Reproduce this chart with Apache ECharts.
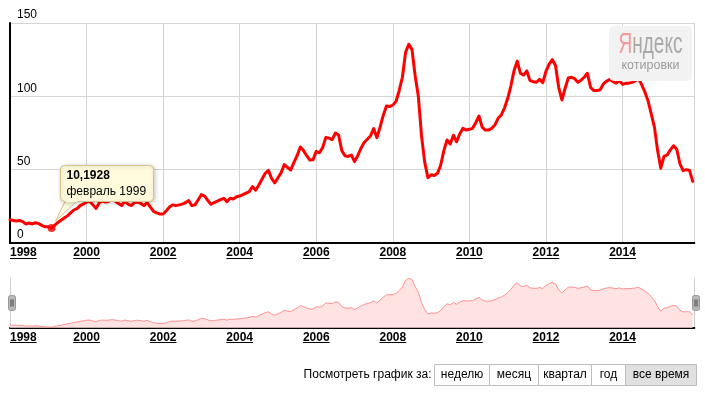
<!DOCTYPE html>
<html>
<head>
<meta charset="utf-8">
<script src="https://cdn.jsdelivr.net/npm/echarts@6/dist/echarts.min.js"></script>
<style>
html,body{margin:0;padding:0;background:#fff;}
#c{width:705px;height:393px;}
</style>
</head>
<body>
<div id="c"></div>
<script>
// ---- data (monthly values) ----
const years = [1998,1999,2000,2001,2002,2003,2004,2005,2006,2007,2008,2009,2010,2011,2012,2013,2014,2015];
const v1998 = [15.8,15.4,15.0,15.4,14.6,13.0,13.6,13.0,13.8,13.2,12.0,11.0];
const v1999 = [11.0,10.1928,12.0,14.0,15.5,17.0,18.5,20.5,22.5,23.5,25.5,26.5];
const v2000 = [28.0,28.5,26.0,23.6,27.5,28.5,28.0,28.5,29.5,28.5,27.0,25.5];
const v2001 = [28.5,26.5,25.5,27.5,28.0,27.0,25.5,27.5,24.5,21.5,20.5,19.8];
const v2002 = [19.8,22.0,24.5,26.0,25.5,26.0,26.5,27.5,29.0,25.5,26.0,29.5];
const v2003 = [33.0,32.0,29.0,26.4,27.5,28.5,29.5,30.5,28.2,30.5,30.0,31.5];
const v2004 = [32.0,33.0,34.0,35.0,38.4,36.0,39.5,43.5,47.5,49.5,44.0,41.0];
const v2005 = [44.5,48.0,53.5,51.5,49.8,55.0,59.5,65.5,63.0,59.5,56.5,56.8];
const v2006 = [62.5,61.5,65.0,72.0,71.5,70.5,75.0,73.6,63.0,59.5,59.0,60.0];
const v2007 = [55.5,59.5,64.5,68.5,70.7,73.0,78.0,71.8,79.0,87.0,93.4,93.0];
const v2008 = [94.0,96.5,104.0,113.0,130.0,135.5,132.0,114.0,100.0,73.0,55.0,44.5];
const v2009 = [46.5,46.0,47.5,53.0,63.0,70.2,67.5,73.5,69.0,74.5,78.2,77.0];
const v2010 = [77.5,78.2,82.0,86.6,79.0,77.0,77.0,78.2,80.5,85.0,87.3,92.0];
const v2011 = [98.5,107.0,117.5,124.0,115.7,114.5,117.3,110.7,110.0,109.6,111.6,109.3];
const v2012 = [117.0,122.0,125.0,121.0,106.0,97.5,105.5,112.5,113.0,112.0,109.6,111.0];
const v2013 = [113.0,115.7,106.0,103.9,103.9,104.5,108.5,110.3,111.6,110.0,109.0,110.7];
const v2014 = [108.2,108.9,109.0,109.5,110.5,112.3,108.0,103.0,97.0,88.0,79.0,63.0];
const v2015 = [51.0,59.0,60.0,63.5,66.3,63.9,54.0,49.3,50.0,49.5,42.0];
const yearValues = [v1998,v1999,v2000,v2001,v2002,v2003,v2004,v2005,v2006,v2007,v2008,v2009,v2010,v2011,v2012,v2013,v2014,v2015];

const xTickYears = [1998,2000,2002,2004,2006,2008,2010,2012,2014];
const yTicks = [0,50,100,150];
const monthNames = ['январь','февраль','март','апрель','май','июнь','июль','август','сентябрь','октябрь','ноябрь','декабрь'];
const highlight = {year:1999, month:1};
const periodLabel = 'Посмотреть график за:';
const periodButtons = ['неделю','месяц','квартал','год','все время'];
const activeButton = 'все время';
const logoParts = ['Я','ндекс'];
const logoSub = 'котировки';

// ---- build series ----
const points = [];
years.forEach((y,i)=>yearValues[i].forEach((v,m)=>points.push([y + m/12, v])));
const hlValue = yearValues[years.indexOf(highlight.year)][highlight.month];
const hlPoint = [highlight.year + highlight.month/12, hlValue];
const xMin = 1998, xMax = 2015.875;

const FONT = 'Arial, "Liberation Sans", Helvetica, sans-serif';
const chart = echarts.init(document.getElementById('c'), null, {renderer:'canvas'});

const yearFmt = v => (Math.abs(v - Math.round(v)) < 1e-6 ? String(Math.round(v)) : '');
const xLabel = {fontFamily:FONT, fontSize:12, fontWeight:'bold', color:'#000', margin:4,
  alignMinLabel:'left', showMaxLabel:false, formatter:yearFmt};

chart.setOption({
  animation:false,
  backgroundColor:'#fff',
  grid:[
    {left:10, right:10.7, top:23, bottom:150},
    {left:10, right:10.7, top:278, bottom:65.3}
  ],
  xAxis:[
    {type:'value', gridIndex:0, min:xMin, max:xMax, interval:2,
     axisLine:{show:true, onZero:false, lineStyle:{color:'#000', width:2}},
     axisTick:{show:false},
     splitLine:{show:true, lineStyle:{color:'#d4d4d4', width:1}},
     axisLabel:xLabel},
    {type:'value', gridIndex:1, min:xMin, max:xMax, interval:2,
     axisLine:{show:true, onZero:false, lineStyle:{color:'#000', width:2}},
     axisTick:{show:false},
     splitLine:{show:false},
     axisLabel:xLabel}
  ],
  yAxis:[
    {type:'value', gridIndex:0, min:0, max:150, interval:50,
     axisLine:{show:true, lineStyle:{color:'#000', width:2}},
     axisTick:{show:false},
     splitLine:{show:true, lineStyle:{color:'#d4d4d4', width:1}},
     axisLabel:{inside:true, margin:7, align:'left', verticalAlign:'bottom', padding:[0,0,2,0],
       fontFamily:FONT, fontSize:12, color:'#000'}},
    {type:'value', gridIndex:1, min:9, max:136,
     axisLine:{show:true, lineStyle:{color:'#cfcfcf', width:1}},
     axisTick:{show:false}, axisLabel:{show:false}, splitLine:{show:false}},
    {type:'value', gridIndex:1, min:9, max:136, position:'right',
     axisLine:{show:true, lineStyle:{color:'#cfcfcf', width:1}},
     axisTick:{show:false}, axisLabel:{show:false}, splitLine:{show:false}}
  ],
  series:[
    {type:'line', xAxisIndex:0, yAxisIndex:0, data:points, showSymbol:false, silent:true,
     lineStyle:{color:'#ff0000', width:3, join:'round', cap:'round'}, z:3},
    {type:'scatter', xAxisIndex:0, yAxisIndex:0, data:[hlPoint], symbolSize:8, silent:true,
     itemStyle:{color:'#ff0000'}, z:4},
    {type:'line', xAxisIndex:1, yAxisIndex:1, data:points, showSymbol:false, silent:true,
     lineStyle:{color:'#ff8f8f', width:1}, areaStyle:{color:'#ffe2e2', opacity:1}, z:2}
  ]
});

// ---- decorations computed from the axes ----
const mctx = document.createElement('canvas').getContext('2d');
function tw(text, font){ mctx.font = font; return mctx.measureText(text).width; }
const g = [];

// underlines under year labels
function underlines(xAxisIndex, yAxisIndex, yVal, dy){
  const baseY = chart.convertToPixel({yAxisIndex:yAxisIndex}, yVal);
  const uy = Math.round(baseY + dy) + 0.5;
  xTickYears.forEach((yr, i)=>{
    const px = chart.convertToPixel({xAxisIndex:xAxisIndex}, yr);
    const w = tw(String(yr), 'bold 12px ' + FONT);
    const x0 = i === 0 ? px : px - w/2;
    g.push({type:'line', silent:true, z:10, shape:{x1:x0, y1:uy, x2:x0 + w, y2:uy},
      style:{stroke:'#000', lineWidth:1}});
  });
}
underlines(0, 0, 0, 14.5);
underlines(1, 1, 9, 14.5);

// navigator handles
const navTop = chart.convertToPixel({yAxisIndex:1}, 136);
const navBot = chart.convertToPixel({yAxisIndex:1}, 9);
const hMid = (navTop + navBot) / 2 - 0.5;
[xMin, xMax].forEach((xv, i)=>{
  const px = chart.convertToPixel({xAxisIndex:1}, xv) + (i === 0 ? 1 : 1.5);
  const hx = Math.round(px - 3.5) + 0.5, hy = Math.round(hMid - 7.5) + 0.5;
  g.push({type:'rect', silent:true, z:20, shape:{x:hx, y:hy, width:7, height:15, r:2},
    style:{fill:'#b8b8b8', stroke:'#999', lineWidth:1}});
  g.push({type:'line', silent:true, z:21, shape:{x1:hx+2.5, y1:hy+4, x2:hx+2.5, y2:hy+11}, style:{stroke:'#444', lineWidth:1}});
  g.push({type:'line', silent:true, z:21, shape:{x1:hx+4.5, y1:hy+4, x2:hx+4.5, y2:hy+11}, style:{stroke:'#444', lineWidth:1}});
});

// tooltip bubble at highlighted point
const p = chart.convertToPixel({seriesIndex:1}, hlPoint);
const bx = Math.round(p[0] + 9) + 0.5, by = Math.round(p[1] - 63) + 0.5, bw = 93, bh = 36;
const tipFill = '#fffbdc', tipStroke = '#d4c18e';
g.push({type:'polygon', silent:true, z:30, shape:{points:[[bx+5, by+bh-1],[bx+17, by+bh-1],[p[0]+4, p[1]-7]]},
  style:{fill:tipFill, stroke:tipStroke, lineWidth:1}});
g.push({type:'rect', silent:true, z:31, shape:{x:bx, y:by, width:bw, height:bh, r:4},
  style:{fill:tipFill, stroke:tipStroke, lineWidth:1, shadowBlur:4, shadowColor:'rgba(0,0,0,0.22)', shadowOffsetX:1, shadowOffsetY:1}});
g.push({type:'rect', silent:true, z:32, shape:{x:bx+5.5, y:by+bh-2, width:11, height:2.5},
  style:{fill:tipFill}});
g.push({type:'text', silent:true, z:33, x:bx+6, y:by+10,
  style:{text:String(hlValue).replace('.', ','), font:'bold 12px ' + FONT, fill:'#000', verticalAlign:'middle', align:'left'}});
g.push({type:'text', silent:true, z:33, x:bx+6, y:by+26,
  style:{text:monthNames[highlight.month] + ' ' + highlight.year, font:'12px ' + FONT, fill:'#000', verticalAlign:'middle', align:'left'}});

// logo watermark
g.push({type:'rect', silent:true, z:5, shape:{x:609, y:26, width:83, height:55, r:5}, style:{fill:'#f2f2f2'}});
const LOGO_FONT = '30px "Liberation Sans Narrow", Arial, "Liberation Sans", sans-serif';
const wA = tw(logoParts[0], LOGO_FONT), wB = tw(logoParts[1], LOGO_FONT);
const sc = 64 / (wA + wB);
g.push({type:'group', silent:true, z:6, x:650.5, y:44.5, scaleX:sc, children:[
  {type:'text', z:6, x:-(wA + wB)/2, y:0, style:{text:logoParts[0], font:LOGO_FONT, fill:'#f39a9a', verticalAlign:'middle', align:'left'}},
  {type:'text', z:6, x:-(wA + wB)/2 + wA, y:0, style:{text:logoParts[1], font:LOGO_FONT, fill:'#a9a9a9', verticalAlign:'middle', align:'left'}}
]});
g.push({type:'text', silent:true, z:6, x:650.5, y:66,
  style:{text:logoSub, font:'12.5px ' + FONT, fill:'#9a9a9a', verticalAlign:'middle', align:'center'}});

// period selector (layout widths of the button row)
const buttonWidths = [55, 49, 53, 34, 71];
g.push({type:'text', silent:true, x:431.5, y:374.5,
  style:{text:periodLabel, font:'12px ' + FONT, fill:'#000', align:'right', verticalAlign:'middle'}});
let cx = 434.5;
periodButtons.forEach((t, i)=>{
  const w = buttonWidths[i];
  g.push({type:'rect', silent:true, shape:{x:cx, y:364.5, width:w, height:21},
    style:{fill: t === activeButton ? '#e0e0e0' : '#fff', stroke:'#bdbdbd', lineWidth:1}});
  g.push({type:'text', silent:true, x:cx + w/2, y:375,
    style:{text:t, font:'12px ' + FONT, fill:'#000', align:'center', verticalAlign:'middle'}});
  cx += w;
});

chart.setOption({graphic:{elements:g}});
</script>
</body>
</html>
